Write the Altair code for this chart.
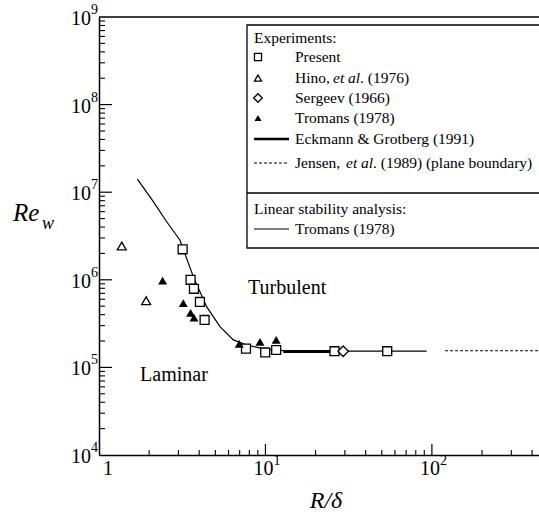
import altair as alt
import pandas as pd

# ---------------- data ----------------
present_x = [3.18, 3.55, 3.72, 4.04, 4.31, 7.64, 9.97, 11.6, 26.0, 53.9]
present_y = [2.23e6, 1.0e6, 7.9e5, 5.58e5, 3.48e5, 1.64e5, 1.48e5, 1.58e5, 1.53e5, 1.53e5]
hino_x = [1.37, 1.92]
hino_y = [2.43e6, 5.76e5]
sergeev_x = [29.3]
sergeev_y = [1.53e5]
tromans_x = [2.41, 3.21, 3.55, 3.72, 6.96, 9.27, 11.6]
tromans_y = [9.8e5, 5.4e5, 4.2e5, 3.7e5, 1.85e5, 1.95e5, 2.06e5]
eg_x = [12.8, 25.0]
eg_y = [1.52e5, 1.52e5]
jensen_x = [120.0, 440.0]
jensen_y = [1.55e5, 1.55e5]
lsa_x = [1.70, 2.12, 2.55, 3.06, 3.69, 4.43, 5.33, 6.41, 7.71, 9.93, 14.0, 93.0]
lsa_y = [1.41e7, 7.8e6, 4.6e6, 2.85e6, 1.08e6, 4.93e5, 2.92e5, 2.06e5, 1.80e5, 1.62e5, 1.53e5, 1.53e5]

region_labels = ["Turbulent", "Laminar"]
region_x = [13.5, 2.82]
region_y = [8.06e5, 8.19e4]

y_label_exps = [4, 5, 6, 7, 8, 9]
x_label_vals = [1, 10, 100]
x_label_exps = ["", "1", "2"]

# ---------------- layout ----------------
W, H = 440, 438
FONT = "'Liberation Serif', 'DejaVu Serif', 'Times New Roman', serif"

xs = alt.Scale(type="log", domain=[1, 440], nice=False)
ys = alt.Scale(type="log", domain=[1e4, 1e9], nice=False)
ax = alt.Axis(domain=True, ticks=False, labels=False, grid=False, title=None,
              domainColor="black", domainWidth=1.5)


def X(f):
    return alt.X(f, type="quantitative", scale=xs, axis=ax)


def Y(f):
    return alt.Y(f, type="quantitative", scale=ys, axis=ax)


def df(xv, yv):
    return pd.DataFrame({"x": xv, "y": yv})


layers = []

# series
layers.append(alt.Chart(df(lsa_x, lsa_y)).mark_line(color="black", strokeWidth=1.2)
              .encode(x=X("x"), y=Y("y")))
layers.append(alt.Chart(df(eg_x, eg_y)).mark_line(color="black", strokeWidth=3)
              .encode(x=X("x"), y=Y("y")))
layers.append(alt.Chart(df(jensen_x, jensen_y)).mark_line(color="black", strokeWidth=1.2,
                                                            strokeDash=[3, 2])
              .encode(x=X("x"), y=Y("y")))
layers.append(alt.Chart(df(present_x, present_y)).mark_point(shape="square", size=80, filled=True,
                                                              fill="white", stroke="black",
                                                              strokeWidth=1.3, opacity=1)
              .encode(x=X("x"), y=Y("y")))
layers.append(alt.Chart(df(hino_x, hino_y)).mark_point(shape="triangle-up", size=80, filled=True,
                                                        fill="white", stroke="black",
                                                        strokeWidth=1.3, opacity=1)
              .encode(x=X("x"), y=Y("y")))
layers.append(alt.Chart(df(sergeev_x, sergeev_y)).mark_point(shape="diamond", size=110, filled=True,
                                                              fill="white", stroke="black",
                                                              strokeWidth=1.3, opacity=1)
              .encode(x=X("x"), y=Y("y")))
layers.append(alt.Chart(df(tromans_x, tromans_y)).mark_point(shape="triangle-up", size=80,
                                                              filled=True, color="black", opacity=1)
              .encode(x=X("x"), y=Y("y")))

# region labels
layers.append(alt.Chart(pd.DataFrame({"x": region_x, "y": region_y, "t": region_labels}))
              .mark_text(font=FONT, fontSize=20, color="black")
              .encode(x=X("x"), y=Y("y"), text="t:N"))

# ticks (inward)
y_major = [10 ** k for k in range(5, 9)]
y_minor = [m * 10 ** k for k in range(4, 9) for m in range(2, 10)]
x_major = [10, 100]
x_minor = [m * 10 ** k for k in range(0, 3) for m in range(2, 10) if m * 10 ** k <= 440]

layers.append(alt.Chart(pd.DataFrame({"y": y_major})).mark_rule(color="black", strokeWidth=1.2)
              .encode(y=Y("y"), x=alt.value(0), x2=alt.value(13)))
layers.append(alt.Chart(pd.DataFrame({"y": y_minor})).mark_rule(color="black", strokeWidth=1.1)
              .encode(y=Y("y"), x=alt.value(0), x2=alt.value(6)))
layers.append(alt.Chart(pd.DataFrame({"x": x_major})).mark_rule(color="black", strokeWidth=1.2)
              .encode(x=X("x"), y=alt.value(H), y2=alt.value(H - 11)))
layers.append(alt.Chart(pd.DataFrame({"x": x_minor})).mark_rule(color="black", strokeWidth=1.1)
              .encode(x=X("x"), y=alt.value(H), y2=alt.value(H - 5)))

# top border
layers.append(alt.Chart(pd.DataFrame({"a": [0]})).mark_rule(color="black", strokeWidth=1.5)
              .encode(x=alt.value(0), x2=alt.value(W), y=alt.value(0)))

# tick labels
ylab = pd.DataFrame({"y": [10.0 ** e for e in y_label_exps], "e": [str(e) for e in y_label_exps]})
layers.append(alt.Chart(ylab).mark_text(font=FONT, fontSize=20, align="right", baseline="middle",
                                        dy=2, color="black")
              .encode(y=Y("y"), x=alt.value(-8), text=alt.value("10")))
layers.append(alt.Chart(ylab).mark_text(font=FONT, fontSize=14, align="left", baseline="middle",
                                        dy=-7, color="black")
              .encode(y=Y("y"), x=alt.value(-8), text="e:N"))

xlab = pd.DataFrame({"x": x_label_vals, "e": x_label_exps,
                     "b": ["1" if e == "" else "10" for e in x_label_exps]})
layers.append(alt.Chart(xlab[xlab.e == ""]).mark_text(font=FONT, fontSize=20, align="center",
                                                      baseline="middle", dx=9, color="black")
              .encode(x=X("x"), y=alt.value(H + 14), text="b:N"))
layers.append(alt.Chart(xlab[xlab.e != ""]).mark_text(font=FONT, fontSize=20, align="right",
                                                      baseline="middle", dx=8, color="black")
              .encode(x=X("x"), y=alt.value(H + 14), text="b:N"))
layers.append(alt.Chart(xlab[xlab.e != ""]).mark_text(font=FONT, fontSize=14, align="left",
                                                      baseline="middle", dx=8, color="black")
              .encode(x=X("x"), y=alt.value(H + 6), text="e:N"))


def txt(t, x, y, size=15.5, style="normal", align="left"):
    return (alt.Chart(pd.DataFrame({"a": [0]}))
            .mark_text(font=FONT, fontSize=size, fontStyle=style, align=align,
                       baseline="middle", color="black")
            .encode(x=alt.value(x), y=alt.value(y), text=alt.value(t)))


# axis titles
layers.append(txt("Re", -86, 196, size=25, style="italic"))
layers.append(txt("w", -57, 207, size=18, style="italic"))
layers.append(txt("R/δ", 227, 484, size=24, style="italic", align="center"))

# legend box
one = pd.DataFrame({"a": [0]})
layers.append(alt.Chart(one).mark_rect(fill="white", stroke="black", strokeWidth=1.3)
              .encode(x=alt.value(148), x2=alt.value(470), y=alt.value(8), y2=alt.value(231)))
layers.append(alt.Chart(one).mark_rule(color="black", strokeWidth=1.3)
              .encode(x=alt.value(148), x2=alt.value(470), y=alt.value(176)))

LX, TX = 159, 196
layers.append(txt("Experiments:", 155, 21))
layers.append(alt.Chart(one).mark_point(shape="square", size=50, filled=True, fill="white",
                                        stroke="black", strokeWidth=1.3, opacity=1)
              .encode(x=alt.value(LX), y=alt.value(40)))
layers.append(alt.Chart(one).mark_point(shape="triangle-up", size=50, filled=True, fill="white",
                                        stroke="black", strokeWidth=1.3, opacity=1)
              .encode(x=alt.value(LX), y=alt.value(61)))
layers.append(alt.Chart(one).mark_point(shape="diamond", size=75, filled=True, fill="white",
                                        stroke="black", strokeWidth=1.3, opacity=1)
              .encode(x=alt.value(LX), y=alt.value(81)))
layers.append(alt.Chart(one).mark_point(shape="triangle-up", size=50, filled=True, color="black",
                                        opacity=1)
              .encode(x=alt.value(LX), y=alt.value(101)))
layers.append(alt.Chart(one).mark_rule(color="black", strokeWidth=2.5)
              .encode(x=alt.value(155), x2=alt.value(190), y=alt.value(122)))
layers.append(alt.Chart(one).mark_rule(color="black", strokeWidth=1.2, strokeDash=[3, 2])
              .encode(x=alt.value(155), x2=alt.value(190), y=alt.value(146)))
layers.append(alt.Chart(one).mark_rule(color="black", strokeWidth=1.1)
              .encode(x=alt.value(155), x2=alt.value(190), y=alt.value(212)))

layers.append(txt("Present", TX, 40))
layers.append(txt("Hino, ", TX, 61))
layers.append(txt("et al", TX + 38, 61, style="italic"))
layers.append(txt(". (1976)", TX + 65, 61))
layers.append(txt("Sergeev (1966)", TX, 81))
layers.append(txt("Tromans (1978)", TX, 101))
layers.append(txt("Eckmann & Grotberg (1991)", TX, 122))
layers.append(txt("Jensen, ", TX, 146))
layers.append(txt("et al", TX + 51, 146, style="italic"))
layers.append(txt(". (1989) (plane boundary)", TX + 78, 146))
layers.append(txt("Linear stability analysis:", 155, 192))
layers.append(txt("Tromans (1978)", TX, 212))

chart = (alt.layer(*layers)
         .properties(width=W, height=H, background="white",
                     padding={"left": 99, "top": 17, "right": 0, "bottom": 63},
                     autosize=alt.AutoSizeParams(type="none"))
         .configure_view(stroke=None))

chart.save("out.html", embed_options={"renderer": "svg", "actions": False})
